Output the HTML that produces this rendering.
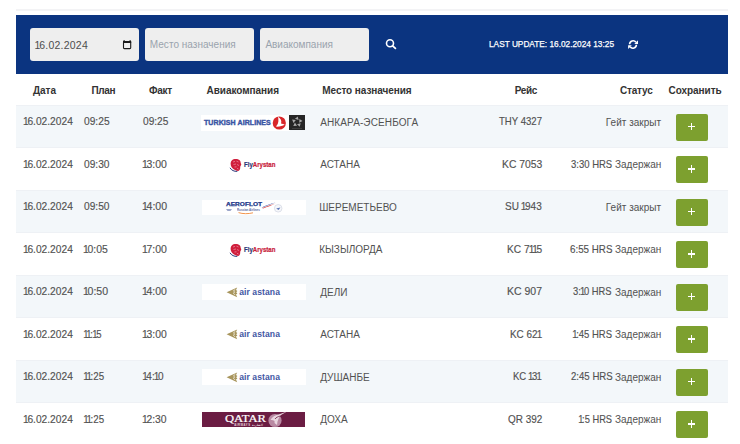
<!DOCTYPE html>
<html><head><meta charset="utf-8"><style>
html,body{margin:0;padding:0;}
body{width:740px;height:444px;overflow:hidden;background:#fff;position:relative;font-family:"Liberation Sans",sans-serif;}
body>div,body>svg{position:absolute;}
.t{white-space:nowrap;}
</style></head><body>
<div style="left:16px;top:9px;width:712px;height:2px;background:#f3f3f5;"></div>
<div style="left:16px;top:15px;width:712px;height:59px;background:#0b3480;"></div>
<div style="left:29.5px;top:28px;width:109px;height:33px;background:#eeeeee;border-radius:3px;"></div>
<div style="left:145px;top:28px;width:109px;height:33px;background:#eeeeee;border-radius:3px;"></div>
<div style="left:260px;top:28px;width:109px;height:33px;background:#eeeeee;border-radius:3px;"></div>
<div class="t" style="left:35.50px;top:39.51px;font-family:'Liberation Sans';font-size:10.5px;line-height:10.5px;font-weight:400;color:#4d4d4d;letter-spacing:0.222px;"><span style="margin-left:-0.9px;letter-spacing:-1.178px">1</span>6.02.2024</div>
<svg style="left:119.6px;top:37.5px" width="14" height="14" viewBox="0 0 14 14"><rect x="3.5" y="3.6" width="7.2" height="7" rx="0.8" fill="none" stroke="#1a1a1a" stroke-width="1.1"/><rect x="3" y="3" width="8.2" height="2" fill="#1a1a1a"/><rect x="3.6" y="2" width="1" height="1.4" fill="#1a1a1a"/><rect x="9.6" y="2" width="1" height="1.4" fill="#1a1a1a"/></svg>
<div class="t" style="left:149.80px;top:39.73px;font-family:'Liberation Sans';font-size:10px;line-height:10px;font-weight:400;color:#9aa3ad;letter-spacing:0.027px;">Место назначения</div>
<div class="t" style="left:265.40px;top:39.73px;font-family:'Liberation Sans';font-size:10px;line-height:10px;font-weight:400;color:#9aa3ad;letter-spacing:0.000px;">Авиакомпания</div>
<svg style="left:384px;top:37px" width="14" height="14" viewBox="0 0 14 14"><circle cx="6" cy="6.2" r="3.5" fill="none" stroke="#fff" stroke-width="1.6"/><line x1="8.6" y1="8.8" x2="11.4" y2="11.4" stroke="#fff" stroke-width="1.8" stroke-linecap="round"/></svg>
<div class="t" style="left:489.28px;top:39.88px;font-family:'Liberation Sans';font-size:9px;line-height:9px;font-weight:400;color:#ffffff;letter-spacing:0.000px;-webkit-text-stroke:0.25px #fff;transform:scaleX(0.9207);transform-origin:0 0;">LAST UPDATE: 16.02.2024 13:25</div>
<svg style="left:627px;top:38.5px" width="12" height="11" viewBox="0 0 12 11"><path d="M2.6 5.2 A3.5 3.5 0 0 1 8.9 3.2" fill="none" stroke="#fff" stroke-width="1.6"/><path d="M11 1.2 L11 4.9 L7.3 4.9 Z" fill="#fff"/><path d="M9.4 5.8 A3.5 3.5 0 0 1 3.1 7.8" fill="none" stroke="#fff" stroke-width="1.6"/><path d="M1.1 10 L1.1 6.3 L4.8 6.3 Z" fill="#fff"/></svg>
<div class="t" style="left:33.00px;top:85.53px;font-family:'Liberation Sans';font-size:10px;line-height:10px;font-weight:700;color:#333333;letter-spacing:-0.033px;">Дата</div>
<div class="t" style="left:91.50px;top:85.53px;font-family:'Liberation Sans';font-size:10px;line-height:10px;font-weight:700;color:#333333;letter-spacing:-0.333px;">План</div>
<div class="t" style="left:149.10px;top:85.53px;font-family:'Liberation Sans';font-size:10px;line-height:10px;font-weight:700;color:#333333;letter-spacing:-0.300px;">Факт</div>
<div class="t" style="left:206.60px;top:85.53px;font-family:'Liberation Sans';font-size:10px;line-height:10px;font-weight:700;color:#333333;letter-spacing:-0.045px;">Авиакомпания</div>
<div class="t" style="left:322.30px;top:85.53px;font-family:'Liberation Sans';font-size:10px;line-height:10px;font-weight:700;color:#333333;letter-spacing:-0.073px;">Место назначения</div>
<div class="t" style="left:514.80px;top:85.53px;font-family:'Liberation Sans';font-size:10px;line-height:10px;font-weight:700;color:#333333;letter-spacing:-0.433px;">Рейс</div>
<div class="t" style="left:619.90px;top:85.53px;font-family:'Liberation Sans';font-size:10px;line-height:10px;font-weight:700;color:#333333;letter-spacing:-0.180px;">Статус</div>
<div class="t" style="left:668.50px;top:85.53px;font-family:'Liberation Sans';font-size:10px;line-height:10px;font-weight:700;color:#333333;letter-spacing:-0.050px;">Сохранить</div>
<div style="left:16px;top:105.0px;width:712px;height:42.5px;background:#f3f7fa;"></div>
<div style="left:16px;top:105.0px;width:712px;height:1px;background:#eef1f5;"></div>
<div style="left:16px;top:146.5px;width:712px;height:1px;background:#eef1f5;"></div>
<div class="t" style="left:24.40px;top:117.28px;font-family:'Liberation Sans';font-size:10.3px;line-height:10.3px;font-weight:400;color:#525252;letter-spacing:0.000px;-webkit-text-stroke:0.15px #525252;transform:scaleX(0.9918);transform-origin:0 0;"><span style="margin-left:-0.9px;letter-spacing:-1.400px">1</span>6.02.2024</div>
<div class="t" style="left:83.70px;top:117.28px;font-family:'Liberation Sans';font-size:10.3px;line-height:10.3px;font-weight:400;color:#525252;letter-spacing:0.000px;-webkit-text-stroke:0.15px #525252;transform:scaleX(0.9923);transform-origin:0 0;">09:25</div>
<div class="t" style="left:142.80px;top:117.28px;font-family:'Liberation Sans';font-size:10.3px;line-height:10.3px;font-weight:400;color:#525252;letter-spacing:0.000px;-webkit-text-stroke:0.15px #525252;transform:scaleX(0.9846);transform-origin:0 0;">09:25</div>
<div style="left:201px;top:114.5px;width:88.5px;height:16px;background:#ffffff;"></div>
<div class="t" style="left:204.00px;top:119.47px;font-family:'Liberation Sans';font-size:7px;line-height:7px;font-weight:700;color:#3a55a4;letter-spacing:0.087px;-webkit-text-stroke:0.4px #3a55a4;">TURKISH AIRLINES</div>
<svg style="left:272px;top:115.90px" width="15" height="14" viewBox="0 0 15 14"><circle cx="7.3" cy="7" r="6.6" fill="#d8262a"/><path d="M6 0.8 C8.8 2.4 10 5.2 9 7.6 C10.4 7.9 11.6 8.2 12.7 8.5 C10.6 10 7.4 10.9 3.8 10.6 C5.6 8.8 6.5 6.4 6.4 4.4 C6.4 3.2 6.3 2 6 0.8 Z" fill="#fff"/></svg>
<div style="left:288.9px;top:114.7px;width:16.4px;height:15.8px;background:#262626;"></div>
<svg style="left:288.9px;top:114.90px" width="17" height="16" viewBox="0 0 17 16"><path d="M8.83 1.43 L9.52 5.09 L5.95 3.79 Z M13.53 5.90 L10.26 7.69 L10.40 3.89 Z M10.73 11.76 L8.02 9.20 L11.67 8.16 Z M4.29 10.90 L5.88 7.53 L8.01 10.68 Z M3.12 4.52 L6.81 4.99 L4.47 7.98 Z" fill="#a8a8a8"/><rect x="3" y="13" width="10" height="0.7" fill="#4a4a4a"/></svg>
<div class="t" style="left:320.20px;top:117.53px;font-family:'Liberation Sans';font-size:10px;line-height:10px;font-weight:400;color:#525252;letter-spacing:0.114px;">АНКАРА-ЭСЕНБОГА</div>
<div class="t" style="left:499.00px;top:117.28px;font-family:'Liberation Sans';font-size:10.3px;line-height:10.3px;font-weight:400;color:#525252;letter-spacing:0.000px;-webkit-text-stroke:0.15px #525252;transform:scaleX(0.9304);transform-origin:0 0;">THY 4327</div>
<div class="t" style="left:605.80px;top:117.53px;font-family:'Liberation Sans';font-size:10px;line-height:10px;font-weight:400;color:#525252;letter-spacing:0.020px;">Гейт закрыт</div>
<div style="left:676px;top:113.7px;width:31.8px;height:26.9px;background:#7da02f;border-radius:2px;"></div>
<div style="left:688.1px;top:125.60px;width:7.2px;height:1.5px;background:#fff"></div>
<div style="left:690.95px;top:122.60px;width:1.5px;height:7.5px;background:#fff"></div>
<div class="t" style="left:24.40px;top:159.78px;font-family:'Liberation Sans';font-size:10.3px;line-height:10.3px;font-weight:400;color:#525252;letter-spacing:0.000px;-webkit-text-stroke:0.15px #525252;transform:scaleX(0.9918);transform-origin:0 0;"><span style="margin-left:-0.9px;letter-spacing:-1.400px">1</span>6.02.2024</div>
<div class="t" style="left:83.90px;top:159.78px;font-family:'Liberation Sans';font-size:10.3px;line-height:10.3px;font-weight:400;color:#525252;letter-spacing:0.000px;-webkit-text-stroke:0.15px #525252;transform:scaleX(0.9885);transform-origin:0 0;">09:30</div>
<div class="t" style="left:142.60px;top:159.78px;font-family:'Liberation Sans';font-size:10.3px;line-height:10.3px;font-weight:400;color:#525252;letter-spacing:0.000px;-webkit-text-stroke:0.15px #525252;transform:scaleX(1.0174);transform-origin:0 0;"><span style="margin-left:-0.9px;letter-spacing:-1.400px">1</span>3:00</div>
<svg style="left:229px;top:157.80px" width="14" height="15" viewBox="0 0 14 15"><path d="M4.5 1.3 C7 0.6 10 1 11.2 3 C11.8 4.1 11.6 5.3 12.3 6.3 C12 7.6 11 8.3 11.2 9.8 C11.3 11.3 10.5 12.6 9.2 13 C7 12.8 5 11.8 3.5 10.3 C2 8.8 1.2 6.3 1.8 4.3 C2.2 2.8 3.2 1.8 4.5 1.3 Z" fill="#d01e3c"/><path d="M4 4 L6 3.4 M7.5 3.2 L9.5 4 M4.5 6.5 L7 6 M8 6.5 L10 7.5 M5.5 9 L7.5 8.8 M8 10.3 L9.5 11" stroke="#f2a8b8" stroke-width="0.6"/><path d="M1 9.8 C2.3 12.3 5.3 13.6 8.3 13.4" fill="none" stroke="#2b3a7c" stroke-width="1"/></svg>
<div class="t" style="left:243.70px;top:160.82px;font-family:'Liberation Sans';font-size:7.3px;line-height:7.3px;font-weight:700;color:#c8203a;letter-spacing:0.000px;-webkit-text-stroke:0.2px currentColor;transform:scaleX(0.8316);transform-origin:0 0;"><span style="color:#2a3778">Fly</span>Arystan</div>
<div class="t" style="left:320.20px;top:160.03px;font-family:'Liberation Sans';font-size:10px;line-height:10px;font-weight:400;color:#525252;letter-spacing:0.000px;">АСТАНА</div>
<div class="t" style="left:501.59px;top:159.78px;font-family:'Liberation Sans';font-size:10.3px;line-height:10.3px;font-weight:400;color:#525252;letter-spacing:0.000px;-webkit-text-stroke:0.15px #525252;transform:scaleX(1.0051);transform-origin:0 0;">KC 7053</div>
<div class="t" style="left:571.00px;top:159.78px;font-family:'Liberation Sans';font-size:10.3px;line-height:10.3px;font-weight:400;color:#525252;letter-spacing:0.000px;-webkit-text-stroke:0.15px #525252;transform:scaleX(0.9227);transform-origin:0 0;">3:30 HRS</div>
<div class="t" style="left:615.00px;top:160.03px;font-family:'Liberation Sans';font-size:10px;line-height:10px;font-weight:400;color:#525252;letter-spacing:0.000px;">Задержан</div>
<div style="left:676px;top:156.2px;width:31.8px;height:26.9px;background:#7da02f;border-radius:2px;"></div>
<div style="left:688.1px;top:168.10px;width:7.2px;height:1.5px;background:#fff"></div>
<div style="left:690.95px;top:165.10px;width:1.5px;height:7.5px;background:#fff"></div>
<div style="left:16px;top:190.0px;width:712px;height:42.5px;background:#f3f7fa;"></div>
<div style="left:16px;top:190.0px;width:712px;height:1px;background:#eef1f5;"></div>
<div style="left:16px;top:231.5px;width:712px;height:1px;background:#eef1f5;"></div>
<div class="t" style="left:24.40px;top:202.28px;font-family:'Liberation Sans';font-size:10.3px;line-height:10.3px;font-weight:400;color:#525252;letter-spacing:0.000px;-webkit-text-stroke:0.15px #525252;transform:scaleX(0.9918);transform-origin:0 0;"><span style="margin-left:-0.9px;letter-spacing:-1.400px">1</span>6.02.2024</div>
<div class="t" style="left:83.90px;top:202.28px;font-family:'Liberation Sans';font-size:10.3px;line-height:10.3px;font-weight:400;color:#525252;letter-spacing:0.000px;-webkit-text-stroke:0.15px #525252;transform:scaleX(0.9885);transform-origin:0 0;">09:50</div>
<div class="t" style="left:142.60px;top:202.28px;font-family:'Liberation Sans';font-size:10.3px;line-height:10.3px;font-weight:400;color:#525252;letter-spacing:0.000px;-webkit-text-stroke:0.15px #525252;transform:scaleX(1.0261);transform-origin:0 0;"><span style="margin-left:-0.9px;letter-spacing:-1.400px">1</span>4:00</div>
<div style="left:201.5px;top:199.8px;width:104px;height:15.7px;background:#ffffff;"></div>
<div class="t" style="left:225.50px;top:202.85px;font-family:'Liberation Sans';font-size:4.9px;line-height:4.9px;font-weight:700;color:#1f3a8a;letter-spacing:0.000px;-webkit-text-stroke:0.25px #1f3a8a;transform:scaleX(1.3370);transform-origin:0 0;">AEROFLOT</div>
<svg style="left:224px;top:199.50px" width="62" height="16" viewBox="0 0 62 16"><path d="M37.6 7.6 C42 5.6 46.5 3.8 51.5 2.6 C47 4.4 42.5 6 38.4 7.6 Z" fill="#2446a0"/><path d="M38.4 8.0 C43 6.4 47.5 4.8 51.8 3.6 C47.5 5.4 43 7.2 39 8.4 Z" fill="#d8322e"/><path d="M2 9.6 L8 9.4 L6.5 10.6 L3.5 10.6 Z" fill="#3a4f96"/><path d="M14.5 12.6 C19 14 24 14 29 12.8" fill="none" stroke="#f08a3a" stroke-width="0.9"/><circle cx="54.2" cy="8.3" r="3.8" fill="#f6f7fa" stroke="#c0c6d6" stroke-width="0.5"/><path d="M52.2 8.6 L56.4 7.6 L54.6 9.9 Z" fill="#5a74b8"/></svg>
<div class="t" style="left:237.00px;top:208.76px;font-family:'Liberation Sans';font-size:3px;line-height:3px;font-weight:700;color:#5a6aa0;letter-spacing:0.000px;transform:scaleX(0.9783);transform-origin:0 0;">Russian Airlines</div>
<div class="t" style="left:319.20px;top:202.53px;font-family:'Liberation Sans';font-size:10px;line-height:10px;font-weight:400;color:#525252;letter-spacing:0.000px;">ШЕРЕМЕТЬЕВО</div>
<div class="t" style="left:504.83px;top:202.28px;font-family:'Liberation Sans';font-size:10.3px;line-height:10.3px;font-weight:400;color:#525252;letter-spacing:0.000px;-webkit-text-stroke:0.15px #525252;transform:scaleX(0.9730);transform-origin:0 0;">SU <span style="margin-left:-0.9px;letter-spacing:-1.400px">1</span>943</div>
<div class="t" style="left:605.80px;top:202.53px;font-family:'Liberation Sans';font-size:10px;line-height:10px;font-weight:400;color:#525252;letter-spacing:0.020px;">Гейт закрыт</div>
<div style="left:676px;top:198.7px;width:31.8px;height:26.9px;background:#7da02f;border-radius:2px;"></div>
<div style="left:688.1px;top:210.60px;width:7.2px;height:1.5px;background:#fff"></div>
<div style="left:690.95px;top:207.60px;width:1.5px;height:7.5px;background:#fff"></div>
<div class="t" style="left:24.40px;top:244.78px;font-family:'Liberation Sans';font-size:10.3px;line-height:10.3px;font-weight:400;color:#525252;letter-spacing:0.000px;-webkit-text-stroke:0.15px #525252;transform:scaleX(0.9918);transform-origin:0 0;"><span style="margin-left:-0.9px;letter-spacing:-1.400px">1</span>6.02.2024</div>
<div class="t" style="left:83.90px;top:244.78px;font-family:'Liberation Sans';font-size:10.3px;line-height:10.3px;font-weight:400;color:#525252;letter-spacing:0.000px;-webkit-text-stroke:0.15px #525252;transform:scaleX(1.0130);transform-origin:0 0;"><span style="margin-left:-0.9px;letter-spacing:-1.400px">1</span>0:05</div>
<div class="t" style="left:142.60px;top:244.78px;font-family:'Liberation Sans';font-size:10.3px;line-height:10.3px;font-weight:400;color:#525252;letter-spacing:0.000px;-webkit-text-stroke:0.15px #525252;transform:scaleX(1.0174);transform-origin:0 0;"><span style="margin-left:-0.9px;letter-spacing:-1.400px">1</span>7:00</div>
<svg style="left:229px;top:242.80px" width="14" height="15" viewBox="0 0 14 15"><path d="M4.5 1.3 C7 0.6 10 1 11.2 3 C11.8 4.1 11.6 5.3 12.3 6.3 C12 7.6 11 8.3 11.2 9.8 C11.3 11.3 10.5 12.6 9.2 13 C7 12.8 5 11.8 3.5 10.3 C2 8.8 1.2 6.3 1.8 4.3 C2.2 2.8 3.2 1.8 4.5 1.3 Z" fill="#d01e3c"/><path d="M4 4 L6 3.4 M7.5 3.2 L9.5 4 M4.5 6.5 L7 6 M8 6.5 L10 7.5 M5.5 9 L7.5 8.8 M8 10.3 L9.5 11" stroke="#f2a8b8" stroke-width="0.6"/><path d="M1 9.8 C2.3 12.3 5.3 13.6 8.3 13.4" fill="none" stroke="#2b3a7c" stroke-width="1"/></svg>
<div class="t" style="left:243.70px;top:245.82px;font-family:'Liberation Sans';font-size:7.3px;line-height:7.3px;font-weight:700;color:#c8203a;letter-spacing:0.000px;-webkit-text-stroke:0.2px currentColor;transform:scaleX(0.8316);transform-origin:0 0;"><span style="color:#2a3778">Fly</span>Arystan</div>
<div class="t" style="left:319.20px;top:245.03px;font-family:'Liberation Sans';font-size:10px;line-height:10px;font-weight:400;color:#525252;letter-spacing:0.000px;">КЫЗЫЛОРДА</div>
<div class="t" style="left:507.21px;top:244.78px;font-family:'Liberation Sans';font-size:10.3px;line-height:10.3px;font-weight:400;color:#525252;letter-spacing:0.000px;-webkit-text-stroke:0.15px #525252;transform:scaleX(0.9882);transform-origin:0 0;">KC 7<span style="margin-left:-0.9px;letter-spacing:-1.400px">1</span><span style="margin-left:-0.9px;letter-spacing:-1.400px">1</span>5</div>
<div class="t" style="left:569.80px;top:244.78px;font-family:'Liberation Sans';font-size:10.3px;line-height:10.3px;font-weight:400;color:#525252;letter-spacing:0.000px;-webkit-text-stroke:0.15px #525252;transform:scaleX(0.9500);transform-origin:0 0;">6:55 HRS</div>
<div class="t" style="left:615.00px;top:245.03px;font-family:'Liberation Sans';font-size:10px;line-height:10px;font-weight:400;color:#525252;letter-spacing:0.000px;">Задержан</div>
<div style="left:676px;top:241.2px;width:31.8px;height:26.9px;background:#7da02f;border-radius:2px;"></div>
<div style="left:688.1px;top:253.10px;width:7.2px;height:1.5px;background:#fff"></div>
<div style="left:690.95px;top:250.10px;width:1.5px;height:7.5px;background:#fff"></div>
<div style="left:16px;top:275.0px;width:712px;height:42.5px;background:#f3f7fa;"></div>
<div style="left:16px;top:275.0px;width:712px;height:1px;background:#eef1f5;"></div>
<div style="left:16px;top:316.5px;width:712px;height:1px;background:#eef1f5;"></div>
<div class="t" style="left:24.40px;top:287.28px;font-family:'Liberation Sans';font-size:10.3px;line-height:10.3px;font-weight:400;color:#525252;letter-spacing:0.000px;-webkit-text-stroke:0.15px #525252;transform:scaleX(0.9918);transform-origin:0 0;"><span style="margin-left:-0.9px;letter-spacing:-1.400px">1</span>6.02.2024</div>
<div class="t" style="left:83.50px;top:287.28px;font-family:'Liberation Sans';font-size:10.3px;line-height:10.3px;font-weight:400;color:#525252;letter-spacing:0.000px;-webkit-text-stroke:0.15px #525252;transform:scaleX(1.0261);transform-origin:0 0;"><span style="margin-left:-0.9px;letter-spacing:-1.400px">1</span>0:50</div>
<div class="t" style="left:142.80px;top:287.28px;font-family:'Liberation Sans';font-size:10.3px;line-height:10.3px;font-weight:400;color:#525252;letter-spacing:0.000px;-webkit-text-stroke:0.15px #525252;transform:scaleX(1.0174);transform-origin:0 0;"><span style="margin-left:-0.9px;letter-spacing:-1.400px">1</span>4:00</div>
<div style="left:201.5px;top:284.0px;width:104px;height:15.7px;background:#ffffff;"></div>
<svg style="left:226px;top:286.90px" width="12" height="11" viewBox="0 0 12 11"><path d="M0.6 5.2 L11.2 0.4 L10 3 L11.4 4.1 L10.2 5.2 L11.4 6.4 L10 7.4 L11.2 10.2 Z" fill="#a8955c"/><path d="M9.2 2.6 C7.6 2.8 7.2 4.6 8.6 5.1 C7 5.4 7.4 7.6 9.2 7.6" fill="none" stroke="#fff" stroke-width="0.7"/></svg>
<div class="t" style="left:239.20px;top:287.72px;font-family:'Liberation Sans';font-size:8.6px;line-height:8.6px;font-weight:700;color:#4257a4;letter-spacing:0.067px;">air astana</div>
<div class="t" style="left:320.20px;top:287.54px;font-family:'Liberation Sans';font-size:10px;line-height:10px;font-weight:400;color:#525252;letter-spacing:0.000px;">ДЕЛИ</div>
<div class="t" style="left:507.18px;top:287.28px;font-family:'Liberation Sans';font-size:10.3px;line-height:10.3px;font-weight:400;color:#525252;letter-spacing:0.000px;-webkit-text-stroke:0.15px #525252;transform:scaleX(1.0182);transform-origin:0 0;">KC 907</div>
<div class="t" style="left:573.40px;top:287.28px;font-family:'Liberation Sans';font-size:10.3px;line-height:10.3px;font-weight:400;color:#525252;letter-spacing:0.000px;-webkit-text-stroke:0.15px #525252;transform:scaleX(0.9095);transform-origin:0 0;">3:<span style="margin-left:-0.9px;letter-spacing:-1.400px">1</span>0 HRS</div>
<div class="t" style="left:615.00px;top:287.54px;font-family:'Liberation Sans';font-size:10px;line-height:10px;font-weight:400;color:#525252;letter-spacing:0.000px;">Задержан</div>
<div style="left:676px;top:283.7px;width:31.8px;height:26.9px;background:#7da02f;border-radius:2px;"></div>
<div style="left:688.1px;top:295.60px;width:7.2px;height:1.5px;background:#fff"></div>
<div style="left:690.95px;top:292.60px;width:1.5px;height:7.5px;background:#fff"></div>
<div class="t" style="left:24.40px;top:329.78px;font-family:'Liberation Sans';font-size:10.3px;line-height:10.3px;font-weight:400;color:#525252;letter-spacing:0.000px;-webkit-text-stroke:0.15px #525252;transform:scaleX(0.9918);transform-origin:0 0;"><span style="margin-left:-0.9px;letter-spacing:-1.400px">1</span>6.02.2024</div>
<div class="t" style="left:83.50px;top:329.78px;font-family:'Liberation Sans';font-size:10.3px;line-height:10.3px;font-weight:400;color:#525252;letter-spacing:0.000px;-webkit-text-stroke:0.15px #525252;transform:scaleX(0.9211);transform-origin:0 0;"><span style="margin-left:-0.9px;letter-spacing:-1.400px">1</span><span style="margin-left:-0.9px;letter-spacing:-1.400px">1</span>:<span style="margin-left:-0.9px;letter-spacing:-1.400px">1</span>5</div>
<div class="t" style="left:142.80px;top:329.78px;font-family:'Liberation Sans';font-size:10.3px;line-height:10.3px;font-weight:400;color:#525252;letter-spacing:0.000px;-webkit-text-stroke:0.15px #525252;transform:scaleX(1.0087);transform-origin:0 0;"><span style="margin-left:-0.9px;letter-spacing:-1.400px">1</span>3:00</div>
<div style="left:201.5px;top:326.5px;width:104px;height:15.7px;background:#ffffff;"></div>
<svg style="left:226px;top:329.40px" width="12" height="11" viewBox="0 0 12 11"><path d="M0.6 5.2 L11.2 0.4 L10 3 L11.4 4.1 L10.2 5.2 L11.4 6.4 L10 7.4 L11.2 10.2 Z" fill="#a8955c"/><path d="M9.2 2.6 C7.6 2.8 7.2 4.6 8.6 5.1 C7 5.4 7.4 7.6 9.2 7.6" fill="none" stroke="#fff" stroke-width="0.7"/></svg>
<div class="t" style="left:239.20px;top:330.22px;font-family:'Liberation Sans';font-size:8.6px;line-height:8.6px;font-weight:700;color:#4257a4;letter-spacing:0.067px;">air astana</div>
<div class="t" style="left:320.20px;top:330.04px;font-family:'Liberation Sans';font-size:10px;line-height:10px;font-weight:400;color:#525252;letter-spacing:0.000px;">АСТАНА</div>
<div class="t" style="left:510.04px;top:329.78px;font-family:'Liberation Sans';font-size:10.3px;line-height:10.3px;font-weight:400;color:#525252;letter-spacing:0.000px;-webkit-text-stroke:0.15px #525252;transform:scaleX(0.9625);transform-origin:0 0;">KC 62<span style="margin-left:-0.9px;letter-spacing:-1.400px">1</span></div>
<div class="t" style="left:572.90px;top:329.78px;font-family:'Liberation Sans';font-size:10.3px;line-height:10.3px;font-weight:400;color:#525252;letter-spacing:0.000px;-webkit-text-stroke:0.15px #525252;transform:scaleX(0.9214);transform-origin:0 0;"><span style="margin-left:-0.9px;letter-spacing:-1.400px">1</span>:45 HRS</div>
<div class="t" style="left:615.00px;top:330.04px;font-family:'Liberation Sans';font-size:10px;line-height:10px;font-weight:400;color:#525252;letter-spacing:0.000px;">Задержан</div>
<div style="left:676px;top:326.2px;width:31.8px;height:26.9px;background:#7da02f;border-radius:2px;"></div>
<div style="left:688.1px;top:338.10px;width:7.2px;height:1.5px;background:#fff"></div>
<div style="left:690.95px;top:335.10px;width:1.5px;height:7.5px;background:#fff"></div>
<div style="left:16px;top:360.0px;width:712px;height:42.5px;background:#f3f7fa;"></div>
<div style="left:16px;top:360.0px;width:712px;height:1px;background:#eef1f5;"></div>
<div style="left:16px;top:401.5px;width:712px;height:1px;background:#eef1f5;"></div>
<div class="t" style="left:24.40px;top:372.28px;font-family:'Liberation Sans';font-size:10.3px;line-height:10.3px;font-weight:400;color:#525252;letter-spacing:0.000px;-webkit-text-stroke:0.15px #525252;transform:scaleX(0.9918);transform-origin:0 0;"><span style="margin-left:-0.9px;letter-spacing:-1.400px">1</span>6.02.2024</div>
<div class="t" style="left:83.50px;top:372.28px;font-family:'Liberation Sans';font-size:10.3px;line-height:10.3px;font-weight:400;color:#525252;letter-spacing:0.000px;-webkit-text-stroke:0.15px #525252;transform:scaleX(0.9476);transform-origin:0 0;"><span style="margin-left:-0.9px;letter-spacing:-1.400px">1</span><span style="margin-left:-0.9px;letter-spacing:-1.400px">1</span>:25</div>
<div class="t" style="left:142.80px;top:372.28px;font-family:'Liberation Sans';font-size:10.3px;line-height:10.3px;font-weight:400;color:#525252;letter-spacing:0.000px;-webkit-text-stroke:0.15px #525252;transform:scaleX(0.9714);transform-origin:0 0;"><span style="margin-left:-0.9px;letter-spacing:-1.400px">1</span>4:<span style="margin-left:-0.9px;letter-spacing:-1.400px">1</span>0</div>
<div style="left:201.5px;top:369.0px;width:104px;height:15.7px;background:#ffffff;"></div>
<svg style="left:226px;top:371.90px" width="12" height="11" viewBox="0 0 12 11"><path d="M0.6 5.2 L11.2 0.4 L10 3 L11.4 4.1 L10.2 5.2 L11.4 6.4 L10 7.4 L11.2 10.2 Z" fill="#a8955c"/><path d="M9.2 2.6 C7.6 2.8 7.2 4.6 8.6 5.1 C7 5.4 7.4 7.6 9.2 7.6" fill="none" stroke="#fff" stroke-width="0.7"/></svg>
<div class="t" style="left:239.20px;top:372.72px;font-family:'Liberation Sans';font-size:8.6px;line-height:8.6px;font-weight:700;color:#4257a4;letter-spacing:0.067px;">air astana</div>
<div class="t" style="left:320.20px;top:372.54px;font-family:'Liberation Sans';font-size:10px;line-height:10px;font-weight:400;color:#525252;letter-spacing:0.000px;">ДУШАНБЕ</div>
<div class="t" style="left:513.07px;top:372.28px;font-family:'Liberation Sans';font-size:10.3px;line-height:10.3px;font-weight:400;color:#525252;letter-spacing:0.000px;-webkit-text-stroke:0.15px #525252;transform:scaleX(0.9267);transform-origin:0 0;">KC <span style="margin-left:-0.9px;letter-spacing:-1.400px">1</span>3<span style="margin-left:-0.9px;letter-spacing:-1.400px">1</span></div>
<div class="t" style="left:570.50px;top:372.28px;font-family:'Liberation Sans';font-size:10.3px;line-height:10.3px;font-weight:400;color:#525252;letter-spacing:0.000px;-webkit-text-stroke:0.15px #525252;transform:scaleX(0.9341);transform-origin:0 0;">2:45 HRS</div>
<div class="t" style="left:615.00px;top:372.54px;font-family:'Liberation Sans';font-size:10px;line-height:10px;font-weight:400;color:#525252;letter-spacing:0.000px;">Задержан</div>
<div style="left:676px;top:368.7px;width:31.8px;height:26.9px;background:#7da02f;border-radius:2px;"></div>
<div style="left:688.1px;top:380.60px;width:7.2px;height:1.5px;background:#fff"></div>
<div style="left:690.95px;top:377.60px;width:1.5px;height:7.5px;background:#fff"></div>
<div class="t" style="left:24.40px;top:414.78px;font-family:'Liberation Sans';font-size:10.3px;line-height:10.3px;font-weight:400;color:#525252;letter-spacing:0.000px;-webkit-text-stroke:0.15px #525252;transform:scaleX(0.9918);transform-origin:0 0;"><span style="margin-left:-0.9px;letter-spacing:-1.400px">1</span>6.02.2024</div>
<div class="t" style="left:83.50px;top:414.78px;font-family:'Liberation Sans';font-size:10.3px;line-height:10.3px;font-weight:400;color:#525252;letter-spacing:0.000px;-webkit-text-stroke:0.15px #525252;transform:scaleX(0.9476);transform-origin:0 0;"><span style="margin-left:-0.9px;letter-spacing:-1.400px">1</span><span style="margin-left:-0.9px;letter-spacing:-1.400px">1</span>:25</div>
<div class="t" style="left:142.80px;top:414.78px;font-family:'Liberation Sans';font-size:10.3px;line-height:10.3px;font-weight:400;color:#525252;letter-spacing:0.000px;-webkit-text-stroke:0.15px #525252;transform:scaleX(1.0043);transform-origin:0 0;"><span style="margin-left:-0.9px;letter-spacing:-1.400px">1</span>2:30</div>
<div style="left:201.8px;top:411.8px;width:103.5px;height:15.6px;background:#6b1d43;"></div>
<div class="t" style="left:225.20px;top:413.77px;font-family:'Liberation Serif';font-size:9.6px;line-height:9.6px;font-weight:400;color:#ffffff;letter-spacing:0.000px;-webkit-text-stroke:0.2px #fff;transform:scaleX(1.3129);transform-origin:0 0;">QATAR</div>
<svg style="left:265.5px;top:410.80px" width="24" height="17" viewBox="0 0 24 17"><circle cx="9" cy="9.5" r="6.6" fill="#b98aa3"/><path d="M4.5 9 C6 6 9 4 14 3 L21 0.5 L15 4 C13 6 11.5 9 11 14 L8.5 12 C9 10 8.5 9 4.5 9 Z" fill="#e9d6df"/><path d="M9 8 C10 6.5 12 5.5 14.5 5" fill="none" stroke="#6b1d43" stroke-width="0.8"/></svg>
<div class="t" style="left:234.20px;top:423.53px;font-family:'Liberation Sans';font-size:2.8px;line-height:2.8px;font-weight:700;color:#e6d2dc;letter-spacing:0.514px;">AIRWAYS القطرية</div>
<div class="t" style="left:320.20px;top:415.04px;font-family:'Liberation Sans';font-size:10px;line-height:10px;font-weight:400;color:#525252;letter-spacing:0.000px;">ДОХА</div>
<div class="t" style="left:508.00px;top:414.78px;font-family:'Liberation Sans';font-size:10.3px;line-height:10.3px;font-weight:400;color:#525252;letter-spacing:0.000px;-webkit-text-stroke:0.15px #525252;transform:scaleX(0.9657);transform-origin:0 0;">QR 392</div>
<div class="t" style="left:579.10px;top:414.78px;font-family:'Liberation Sans';font-size:10.3px;line-height:10.3px;font-weight:400;color:#525252;letter-spacing:0.000px;-webkit-text-stroke:0.15px #525252;transform:scaleX(0.9028);transform-origin:0 0;"><span style="margin-left:-0.9px;letter-spacing:-1.400px">1</span>:5 HRS</div>
<div class="t" style="left:615.00px;top:415.04px;font-family:'Liberation Sans';font-size:10px;line-height:10px;font-weight:400;color:#525252;letter-spacing:0.000px;">Задержан</div>
<div style="left:676px;top:411.2px;width:31.8px;height:26.9px;background:#7da02f;border-radius:2px;"></div>
<div style="left:688.1px;top:423.10px;width:7.2px;height:1.5px;background:#fff"></div>
<div style="left:690.95px;top:420.10px;width:1.5px;height:7.5px;background:#fff"></div>
</body></html>
